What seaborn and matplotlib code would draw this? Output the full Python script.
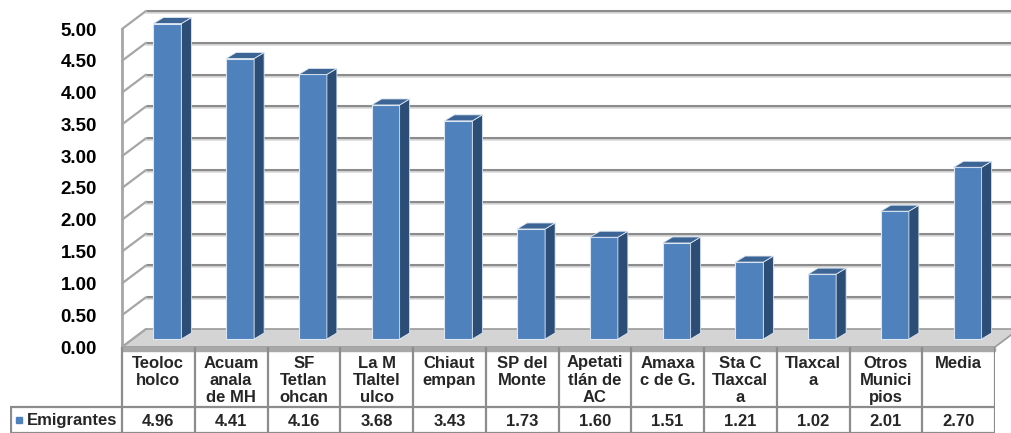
import numpy as np
import pandas as pd
import matplotlib
matplotlib.use("Agg")
import matplotlib.pyplot as plt
import seaborn as sns
from matplotlib.patches import Polygon, Rectangle

# datos
municipios = ["Teoloc\nholco", "Acuam\nanala\nde MH", "SF\nTetlan\nohcan", "La M\nTlaltel\nulco",
              "Chiaut\nempan", "SP del\nMonte", "Apetati\ntlán de\nAC", "Amaxa\nc de G.",
              "Sta C\nTlaxcal\na", "Tlaxcal\na", "Otros\nMunici\npios", "Media"]
emigrantes = [4.96, 4.41, 4.16, 3.68, 3.43, 1.73, 1.60, 1.51, 1.21, 1.02, 2.01, 2.70]
serie = "Emigrantes"
yticks = [0, 0.5, 1, 1.5, 2, 2.5, 3, 3.5, 4, 4.5, 5]

sns.set_theme(style="white")
plt.rcParams["font.family"] = ["Liberation Sans", "DejaVu Sans"]
plt.rcParams["font.weight"] = "bold"

W, H = 1012, 433
fig = plt.figure(figsize=(W / 100, H / 100), dpi=100)
ax = fig.add_axes([122 / W, (H - 347) / H, (995 - 122) / W, (347 - 29) / H])

df = pd.DataFrame({"municipio": municipios, "valor": emigrantes})
sns.barplot(data=df, x="municipio", y="valor", color="#4f81bd", saturation=1,
            width=0.385, edgecolor="#dce6f2", linewidth=0.8, ax=ax, zorder=5)

ax.set_xlim(-0.5, 11.5)
ax.set_ylim(0, 5)

# profundidad 3d en unidades de datos
dxb, dyb = 24 / 72.75, 18 / 63.6
dxh, dyh = 9 / 72.75, 8 / 63.6
ddx, ddy = 10 / 72.75, 6 / 63.6
grid_c = "#8c8c8c"

# piso
floor = Polygon([(-0.5, 0), (11.5, 0), (11.5 + dxb, dyb), (-0.5 + dxb, dyb)],
                closed=True, facecolor="#d4d4d4", edgecolor="#9a9a9a", lw=1.2,
                clip_on=False, zorder=1)
ax.add_patch(floor)
ax.fill([-0.5, 11.5, 11.5, -0.5], [0, 0, -0.06, -0.06], color="#a8a8a8", clip_on=False, zorder=1)

# rejilla en pared del fondo y pared lateral
for v in yticks[1:]:
    ax.plot([-0.5 + dxb, 11.5 + dxb], [v + dyb, v + dyb], color=grid_c, lw=2.2,
            solid_capstyle="butt", clip_on=False, zorder=2)
    ax.plot([-0.5 + dxb, 11.5 + dxb], [v + dyb - 0.03, v + dyb - 0.03], color="#dcdcdc", lw=1.2,
            clip_on=False, zorder=2)
for v in yticks:
    ax.plot([-0.5, -0.5 + dxb], [v, v + dyb], color="#a6a6a6", lw=1.6, clip_on=False, zorder=2)
ax.plot([-0.5, -0.5], [0, 5], color="#a6a6a6", lw=2, clip_on=False, zorder=3)

# barras con caras laterales
for p in ax.patches[:]:
    if not isinstance(p, Rectangle):
        continue
    p.set_clip_on(False)
    x0 = p.get_x() + dxh
    p.set_x(x0)
    p.set_y(dyh)
    x1 = x0 + p.get_width()
    h = p.get_height() + dyh
    side = Polygon([(x1, dyh), (x1 + ddx, dyh + ddy), (x1 + ddx, h + ddy), (x1, h)],
                   closed=True, facecolor="#2c4d75", edgecolor="#dce6f2", lw=0.6,
                   zorder=5, clip_on=False)
    top = Polygon([(x0, h), (x0 + ddx, h + ddy), (x1 + ddx, h + ddy), (x1, h)],
                  closed=True, facecolor="#3c6494", edgecolor="#dce6f2", lw=0.6,
                  zorder=5, clip_on=False)
    ax.add_patch(side)
    ax.add_patch(top)

for s in ax.spines.values():
    s.set_visible(False)
ax.set_xticks([])
ax.set_yticks(yticks)
ax.set_yticklabels(["%.2f" % v for v in yticks], fontsize=13.5, fontweight="bold")
ax.tick_params(axis="y", length=0, pad=18, colors="black")
ax.set_xlabel("")
ax.set_ylabel("")

# tabla de datos
tab = fig.add_axes([10 / W, 0, (995 - 10) / W, (H - 347) / H])
x_left = -0.5 - 112 / 72.75
tab.set_xlim(x_left, 11.5)
tab.set_ylim(86, 0)
tab.axis("off")
line_c = "#8c8c8c"
tab.vlines(np.arange(13) - 0.5, 0, 86, color=line_c, lw=1.6)
tab.vlines([x_left + 0.01], 60, 86, color=line_c, lw=1.6)
tab.hlines([60], x_left, 11.5, color=line_c, lw=1.6)
tab.hlines([85.5], x_left, 11.5, color=line_c, lw=1.6)
for i, (lab, v) in enumerate(zip(municipios, emigrantes)):
    tab.text(i, 8.5, lab, ha="center", va="top", fontsize=12, fontweight="bold", linespacing=1.2)
    tab.text(i, 74, "%.2f" % v, ha="center", va="center", fontsize=12, fontweight="bold")
tab.plot([x_left + 0.12], [73], marker="s", ms=4.5, color="#4f81bd", ls="none")
tab.text(x_left + 0.23, 73, serie, ha="left", va="center", fontsize=12, fontweight="bold")

fig.savefig("out.png", dpi=100)
